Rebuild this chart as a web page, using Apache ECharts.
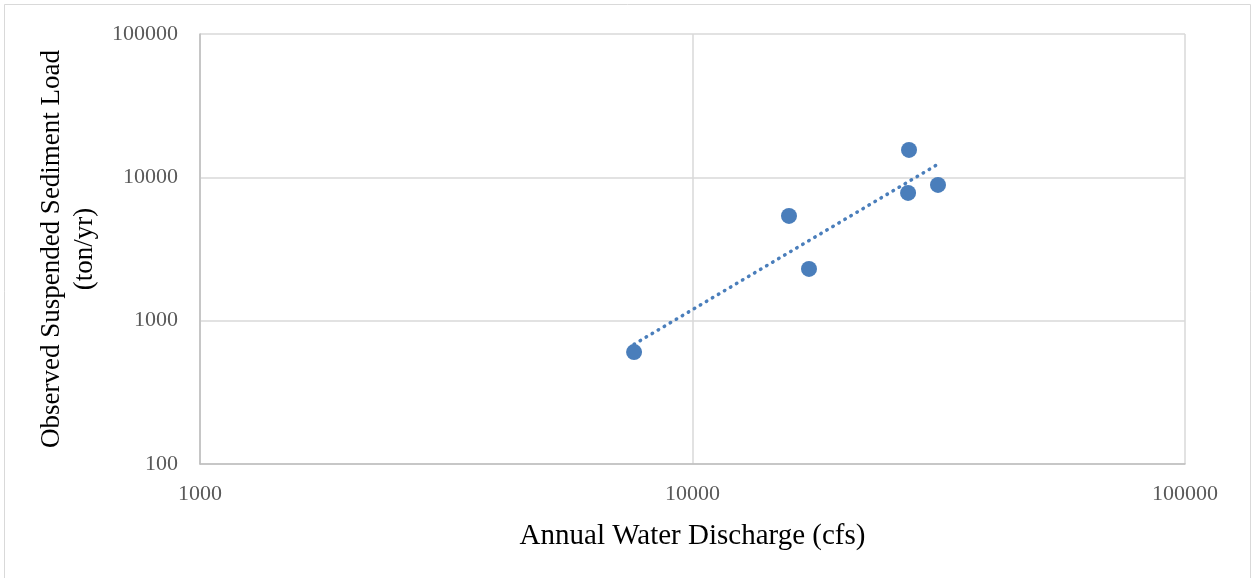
<!DOCTYPE html>
<html>
<head>
<meta charset="utf-8">
<script src="https://cdn.jsdelivr.net/npm/echarts@6/dist/echarts.min.js"></script>
<style>
html,body{margin:0;padding:0;background:#fff;}
#c{width:1256px;height:578px;}
</style>
</head>
<body>
<div id="c"></div>
<script>
// Data
const discharge = [7610, 15700, 17240, 27520, 27400, 31510]; // cfs
const sediment  = [604, 5380, 2296, 15530, 7780, 8850];       // ton/yr
const xTicks = [1000, 10000, 100000];
const yTicks = [100, 1000, 10000, 100000];

// Power trendline (least squares in log-log space) from the data
const lx = discharge.map(Math.log10), ly = sediment.map(Math.log10);
const n = lx.length;
const mx = lx.reduce((a,b)=>a+b,0)/n, my = ly.reduce((a,b)=>a+b,0)/n;
let sxy=0, sxx=0;
for (let i=0;i<n;i++){ sxy += (lx[i]-mx)*(ly[i]-my); sxx += (lx[i]-mx)*(lx[i]-mx); }
const slope = sxy/sxx, icpt = my - slope*mx;
const xMin = Math.min(...discharge), xMax = Math.max(...discharge);
const trend = [xMin, xMax].map(x => [x, Math.pow(10, icpt + slope*Math.log10(x))]);

const chart = echarts.init(document.getElementById('c'), null, {renderer:'canvas'});
const font = '"Liberation Serif", "Times New Roman", serif';
chart.setOption({
  animation:false,
  backgroundColor:'#fff',
  textStyle:{fontFamily:font},
  grid:{left:200, right:71, top:34, bottom:114, containLabel:false},
  graphic:[{
    type:'rect', shape:{x:4.5, y:4.5, width:1246, height:590},
    style:{fill:'none', stroke:'#d9d9d9', lineWidth:1}, silent:true
  }],
  xAxis:{
    type:'log', logBase:10, min:xTicks[0], max:xTicks[xTicks.length-1],
    name:'Annual Water Discharge (cfs)', nameLocation:'middle', nameGap:58,
    nameTextStyle:{fontFamily:font, fontSize:29, color:'#000'},
    axisLine:{show:true, lineStyle:{color:'#bfbfbf', width:1.5}},
    axisTick:{show:false},
    splitLine:{show:true, lineStyle:{color:'#d9d9d9', width:1.5}},
    minorTick:{show:false}, minorSplitLine:{show:false},
    axisLabel:{fontFamily:font, fontSize:22, color:'#595959', margin:19,
      formatter: v => String(Math.round(v))}
  },
  yAxis:{
    type:'log', logBase:10, min:yTicks[0], max:yTicks[yTicks.length-1],
    name:'Observed Suspended Sediment Load\n(ton/yr)', nameLocation:'middle', nameGap:97,
    nameRotate:90,
    nameTextStyle:{fontFamily:font, fontSize:27, color:'#000', lineHeight:33, align:'center'},
    axisLine:{show:true, lineStyle:{color:'#bfbfbf', width:1.5}},
    axisTick:{show:false},
    splitLine:{show:true, lineStyle:{color:'#d9d9d9', width:1.5}},
    axisLabel:{fontFamily:font, fontSize:22, color:'#595959', margin:22,
      formatter: v => String(Math.round(v))}
  },
  series:[
    {
      type:'line', data:trend, symbol:'none', silent:true, z:1,
      lineStyle:{color:'#4a7ebb', width:3.5, type:[0.5,6.5], cap:'round'}
    },
    {
      type:'scatter', data:discharge.map((x,i)=>[x, sediment[i]]),
      symbol:'circle', symbolSize:16, z:2,
      itemStyle:{color:'#4a7ebb', opacity:1}
    }
  ]
});
</script>
</body>
</html>
